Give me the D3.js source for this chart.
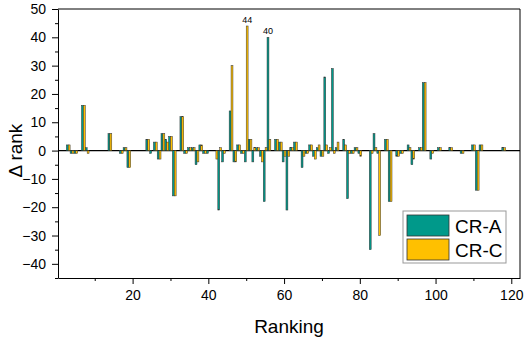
<!DOCTYPE html>
<html>
<head>
<meta charset="utf-8">
<script src="https://cdn.jsdelivr.net/npm/d3@7"></script>
<style>
    body { margin: 0; background: #fff; }
    svg { font-family: Arial, "Liberation Sans", sans-serif; }
</style>
</head>
<body>
<svg id="chart" width="526" height="338"></svg>
<script>
// ranking positions that have a visible bar
const rankings = [3, 4, 5, 7, 8, 14, 17, 18, 19, 24, 25, 26, 27, 28, 29, 30, 31, 33, 34, 35,
                  36, 37, 38, 39, 40, 42, 43, 44, 46, 47, 48, 49, 50, 51, 52, 53, 54, 55, 56, 58,
                  59, 60, 61, 62, 63, 65, 66, 67, 68, 69, 70, 71, 72, 73, 74, 76, 77, 78, 79, 80,
                  83, 84, 85, 87, 88, 90, 91, 93, 94, 96, 97, 99, 101, 104, 107, 110, 111, 112, 118];
const crA = [2, -1, -1, 16, 1, 6, -1, 1, -6, 4, -1, 3, -3, 6, 4, 5, -16, 12, -1, 1,
             1, -5, 2, -1, -1, 0, -21, -4, 14, -4, 2, -1, -4, 4, -4, 1, -2, -18, 40, 4,
             3, -4, -21, 1, 3, -6, -1, 2, -2, 1, -2, 26, -1, 29, 1, 4, -17, -1, 1, -1,
             -35, 6, -1, 4, -18, -2, -1, 2, -5, 1, 24, -3, 1, 1, -1, 2, -14, 2, 1];
const crC = [2, -1, -1, 16, -1, 6, -1, 1, -6, 4, 0, 3, -3, 6, 3, 5, -16, 12, -1, 1,
             1, -4, 2, -1, 0, -3, 1, -1, 30, -4, 2, -1, 44, 4, 1, 1, -4, 1, 4, 4,
             3, -2, -2, 1, 3, -2, -1, 2, -3, 2, -2, 2, 1, -1, 3, 2, -1, -1, 1, -2,
             -1, 1, -30, 4, -18, -2, -1, 1, -3, 1, 24, -1, 1, 1, -1, 2, -14, 2, 1];
const seriesNames = ['CR-A', 'CR-C'];
const seriesColors = ['#00998a', '#ffc000'];
const yTicks = [-40, -30, -20, -10, 0, 10, 20, 30, 40, 50];
const xTicks = [20, 40, 60, 80, 100, 120];
const peakLabels = [{rank: 50, series: 1, text: '44'}, {rank: 56, series: 0, text: '40'}];

const sizes = {left: 58, right: 520, top: 9, bottom: 278};
const svg = d3.select('#chart');

const xScale = d3.scaleLinear()
                .domain([0.3, 122.3])
                .range([sizes.left, sizes.right]);
const yScale = d3.scaleLinear()
                .domain([-45, 50])
                .range([sizes.bottom, sizes.top]);

const barWidth = xScale(0.5) - xScale(0);

drawAxes();
drawBars();
drawLegend();

function drawAxes() {
    //x-Axis: minor ticks first, then major ticks with labels
    svg.append('g')
        .attr('transform', `translate(0, ${sizes.bottom})`)
        .call(d3.axisBottom(xScale).tickValues(d3.range(10, 121, 20)).tickSize(3).tickFormat(''))
        .call(g => g.select('.domain').remove());
    svg.append('g')
        .classed('axis axis--x', true)
        .attr('transform', `translate(0, ${sizes.bottom})`)
        .call(d3.axisBottom(xScale).tickValues(xTicks).tickSize(6).tickPadding(6).tickSizeOuter(0))
        .call(g => g.selectAll('text').attr('font-size', 14).attr('fill', '#000'));

    //y-Axis: minor ticks at the fives
    svg.append('g')
        .attr('transform', `translate(${sizes.left}, 0)`)
        .call(d3.axisLeft(yScale).tickValues(d3.range(-45, 50, 10)).tickSize(3).tickFormat(''))
        .call(g => g.select('.domain').remove());
    svg.append('g')
        .classed('axis axis--y', true)
        .attr('transform', `translate(${sizes.left}, 0)`)
        .call(d3.axisLeft(yScale).tickValues(yTicks).tickSize(6).tickPadding(6).tickSizeOuter(0))
        .call(g => g.selectAll('text').attr('font-size', 14).attr('fill', '#000'));

    //frame: top and right
    svg.append('path')
        .attr('d', `M${sizes.left},${sizes.top}H${sizes.right}V${sizes.bottom}`)
        .attr('fill', 'none')
        .attr('stroke', '#000');

    //zero line
    svg.append('line')
        .attr('x1', sizes.left)
        .attr('x2', sizes.right)
        .attr('y1', yScale(0))
        .attr('y2', yScale(0))
        .attr('stroke', '#000')
        .attr('stroke-width', 1.2);

    //labels
    svg.append('text')
        .attr('x', (sizes.left + sizes.right) / 2)
        .attr('y', 333)
        .attr('text-anchor', 'middle')
        .attr('font-size', 19)
        .text('Ranking');
    svg.append('text')
        .attr('transform', `translate(22, ${yScale(0)}) rotate(-90)`)
        .attr('text-anchor', 'middle')
        .attr('font-size', 19)
        .text('Δ rank');
}

function drawBars() {
    const groups = [crA, crC];
    groups.forEach((values, s) => {
        svg.append('g')
            .selectAll('rect')
            .data(rankings.map((r, i) => ({rank: r, value: values[i]})).filter(d => d.value !== 0))
            .enter()
            .append('rect')
                .attr('x', d => xScale(d.rank) + (s - 1) * barWidth)
                .attr('width', barWidth)
                .attr('y', d => yScale(Math.max(0, d.value)))
                .attr('height', d => Math.abs(yScale(d.value) - yScale(0)))
                .attr('fill', seriesColors[s])
                .attr('stroke', '#333')
                .attr('stroke-width', 0.5);
    });

    svg.selectAll('.peak')
        .data(peakLabels)
        .enter()
        .append('text')
            .classed('peak', true)
            .attr('x', d => xScale(d.rank) + (d.series - 0.5) * barWidth)
            .attr('y', d => yScale((d.series ? crC : crA)[rankings.indexOf(d.rank)]) - 3)
            .attr('text-anchor', 'middle')
            .attr('font-size', 9)
            .text(d => d.text);
}

function drawLegend() {
    const legend = svg.append('g')
                    .attr('transform', 'translate(403, 211)');
    legend.append('rect')
        .attr('width', 103)
        .attr('height', 52)
        .attr('fill', '#fff')
        .attr('stroke', '#999');
    seriesNames.forEach((name, i) => {
        legend.append('rect')
            .attr('x', 4)
            .attr('y', 4 + i * 24)
            .attr('width', 42)
            .attr('height', 21)
            .attr('fill', seriesColors[i])
            .attr('stroke', '#333')
            .attr('stroke-width', 0.8);
        legend.append('text')
            .attr('x', 52)
            .attr('y', 22 + i * 24)
            .attr('font-size', 19)
            .text(name);
    });
}
</script>
</body>
</html>
